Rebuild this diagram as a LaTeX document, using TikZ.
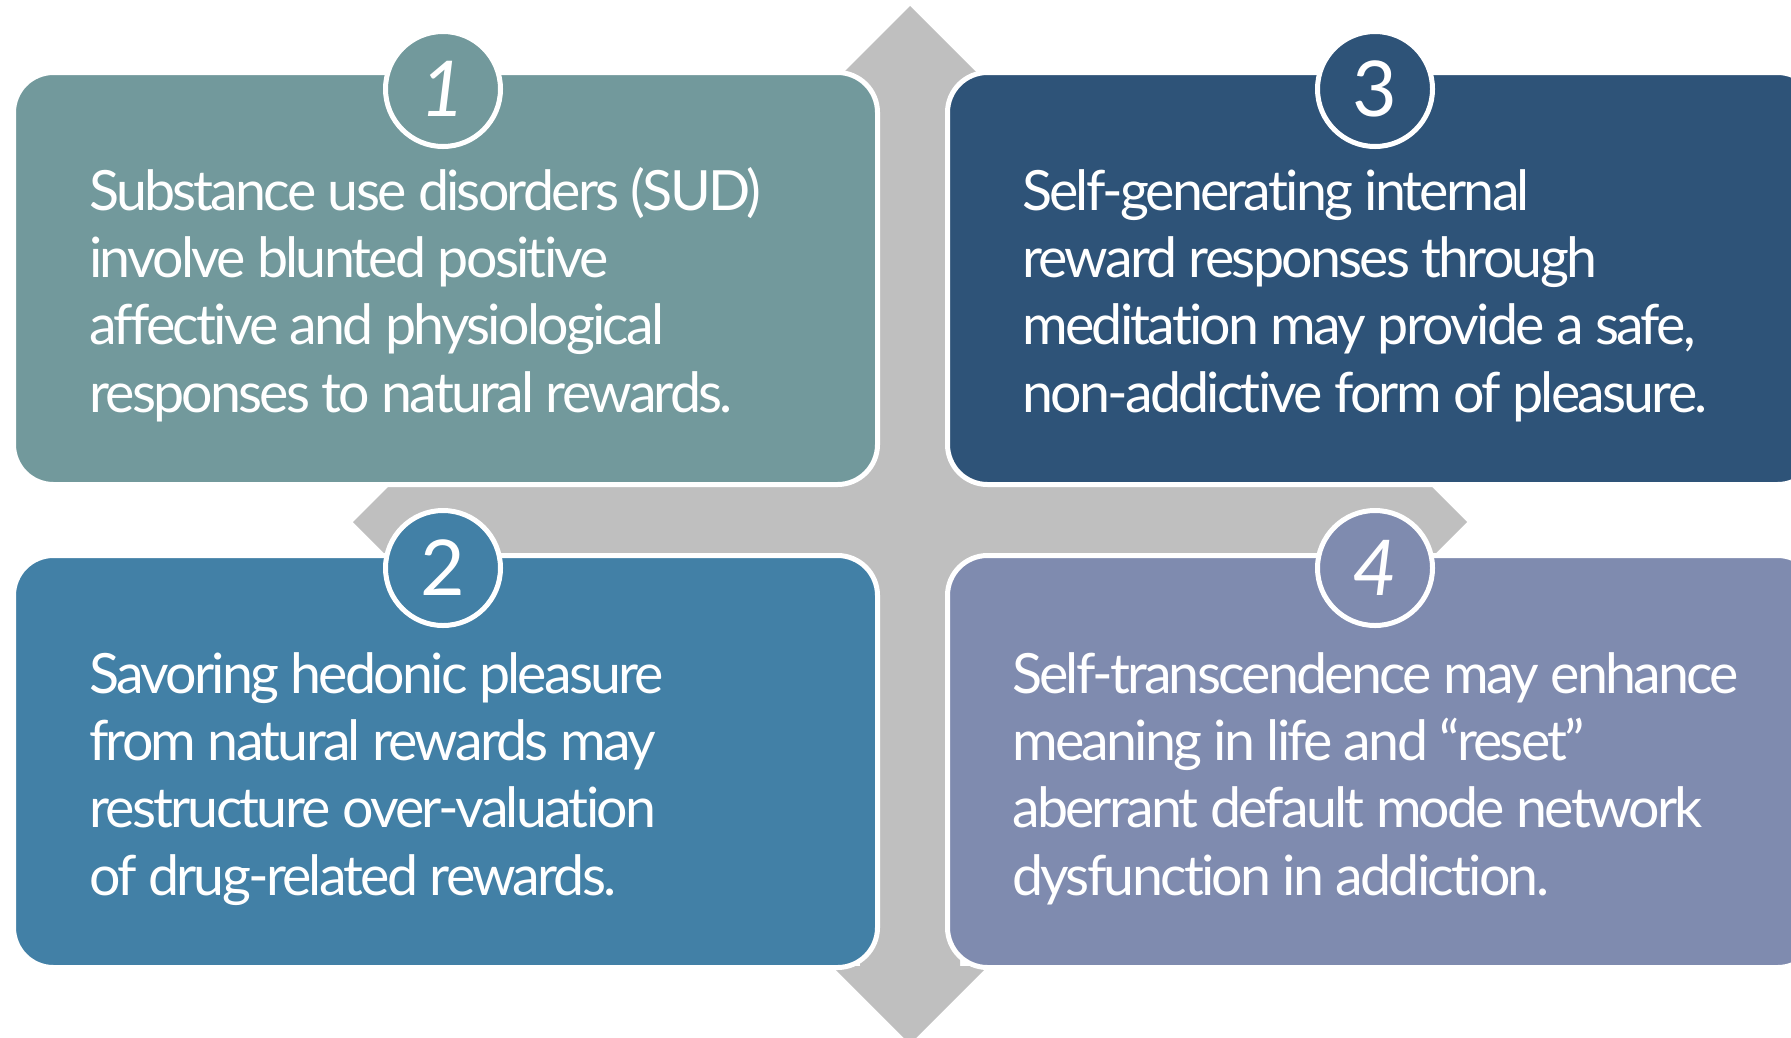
\documentclass[tikz,border=0pt]{standalone}
\usepackage{fontspec}
\setmainfont{Lato}[LetterSpace=-5, Ligatures=NoCommon]
\newfontfamily\numfont{Lato}
\definecolor{cA}{HTML}{72999C}
\definecolor{cB}{HTML}{4280A6}
\definecolor{cC}{HTML}{2E5378}
\definecolor{cD}{HTML}{7F8BAF}
\definecolor{arrowgray}{HTML}{BFBFBF}
\begin{document}
\begin{tikzpicture}[x=1pt,y=-1pt,
  boxL/.style={draw=white, line width=5pt, rounded corners=40pt, minimum width=864pt, minimum height=412pt, inner sep=0pt, anchor=north west},
  boxR/.style={boxL, minimum width=870pt},
  num/.style={circle, draw=white, line width=5pt, minimum size=115pt, inner sep=0pt, text=white, font=\numfont\fontsize{77}{77}\selectfont},
  txt/.style={anchor=base west, text=white, inner sep=0pt, font=\fontsize{55.5}{67.4}\selectfont}]
\useasboundingbox (0,0) rectangle (1791,1037);
\clip (0,0) rectangle (1791,1037);
% cross arrows
\fill[arrowgray] (910,6) -- (988,84) -- (960,84) -- (960,966) -- (988,966) -- (910,1044)
  -- (832,966) -- (860,966) -- (860,84) -- (832,84) -- cycle;
\fill[arrowgray] (353,522) -- (431,444) -- (431,477) -- (1389,477) -- (1389,444) -- (1467,522)
  -- (1389,600) -- (1389,567) -- (431,567) -- (431,600) -- cycle;
% boxes
\node[boxL, fill=cA] (box1) at (11,70) {};
\node[boxL, fill=cB] (box2) at (11,553) {};
\node[boxR, fill=cC] (box3) at (945,70) {};
\node[boxR, fill=cD] (box4) at (945,553) {};
% numbers
\node[num, fill=cA] (c1) at (443,89) {\itshape 1};
\node[num, fill=cB] (c2) at (443,568) {2};
\node[num, fill=cC] (c3) at (1375,89) {3};
\node[num, fill=cD] (c4) at (1375,568) {\itshape 4};
% texts
\node[txt] (t1) at (89,210) {\parbox[t]{1200pt}{\raggedright Substance use disorders (SUD)\\involve blunted positive\\affective and physiological\\responses to natural rewards.}};
\node[txt] (t2) at (89,693) {\parbox[t]{1200pt}{\raggedright Savoring hedonic pleasure\\from natural rewards may\\restructure over-valuation\\of drug-related rewards.}};
\node[txt] (t3) at (1022,210) {\parbox[t]{1200pt}{\raggedright Self-generating internal\\reward responses through\\meditation may provide a safe,\\non-addictive form of pleasure.}};
\node[txt] (t4) at (1012,693) {\parbox[t]{1200pt}{\raggedright Self-transcendence may enhance\\meaning in life and “reset”\\aberrant default mode network\\dysfunction in addiction.}};
\end{tikzpicture}
\end{document}
